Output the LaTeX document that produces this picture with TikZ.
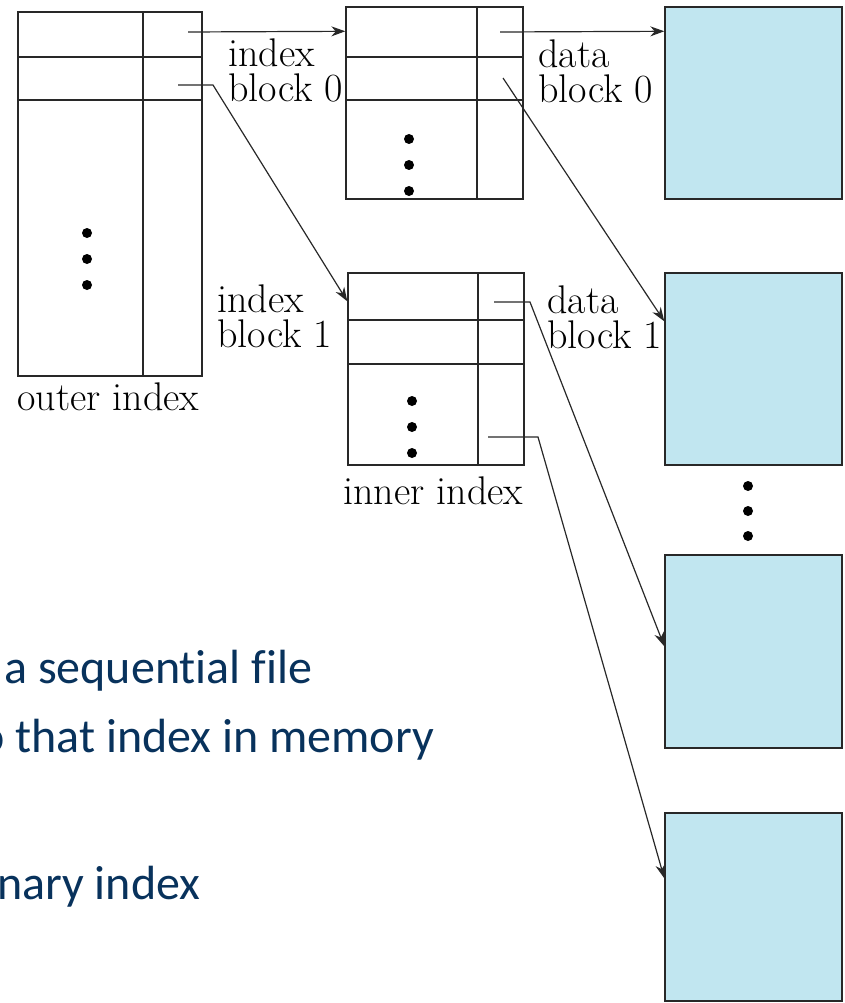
\documentclass[tikz,border=0pt]{standalone}
\usepackage{fontspec}
\usepackage{tikz}
\usetikzlibrary{arrows.meta,calc}
\newfontfamily\slidefont[Ligatures=NoCommon]{Carlito}
\definecolor{db_blue}{RGB}{193, 230, 240}
\definecolor{line_grey}{RGB}{40, 40, 40}
\definecolor{slide_blue}{RGB}{8, 50, 92}
\tikzstyle{ib}=[rectangle,draw=line_grey,line width=1.4pt,inner sep=0pt]
\tikzstyle{db}=[rectangle,fill=db_blue,draw=line_grey,line width=1.4pt,
  inner sep=0pt,minimum width=177pt,minimum height=192pt]
\tikzstyle{lbl}=[inner sep=0pt,anchor=base west,align=left,
  font=\fontsize{40}{35}\selectfont]
\tikzstyle{txt}=[inner sep=0pt,anchor=base west,text=slide_blue,
  font=\slidefont\fontsize{48}{58}\selectfont]
\tikzstyle{ptr}=[line_grey,line width=1.2pt,-{Stealth[length=14pt,width=10pt]}]
\tikzstyle{none}=[]

\begin{document}
\begin{tikzpicture}[x=1pt,y=-1pt]
		\useasboundingbox (0,0) rectangle (844,1003);
		\node [style=ib,minimum width=184pt,minimum height=364pt] (0) at (110, 194) {};
		\node [style=ib,minimum width=177pt,minimum height=192pt] (1) at (434.5, 103) {};
		\node [style=ib,minimum width=176pt,minimum height=192pt] (2) at (436, 369) {};
		\node [style=db] (3) at (753.5, 103) {};
		\node [style=db] (4) at (753.5, 369) {};
		\node [style=db,minimum height=193pt] (5) at (753.5, 651.5) {};
		\node [style=db,minimum height=188pt] (6) at (753.5, 907) {};
		% cells
		\draw [line_grey,line width=1.4pt] (143, 12) -- (143, 376);
		\draw [line_grey,line width=1.4pt] (477, 7) -- (477, 199);
		\draw [line_grey,line width=1.4pt] (478, 273) -- (478, 465);
		\foreach \y in {57,100} {
			\draw [line_grey,line width=1.4pt] (18, \y) -- (202, \y);
			\draw [line_grey,line width=1.4pt] (346, \y) -- (523, \y);
		}
		\foreach \y in {320,364}
			\draw [line_grey,line width=1.4pt] (348, \y) -- (524, \y);
		\foreach \y in {233,259,285} \fill (87, \y) circle (5pt);
		\foreach \y in {139,165,191} \fill (409, \y) circle (5pt);
		\foreach \y in {401,427,453} \fill (412, \y) circle (5pt);
		\foreach \y in {486,511,536} \fill (748, \y) circle (5pt);
		% labels
		\node [style=lbl] (7) at (228, 102) {index\\block 0};
		\node [style=lbl] (8) at (538, 103) {data\\block 0};
		\node [style=lbl] (9) at (217, 347) {index\\block 1};
		\node [style=lbl] (10) at (547, 348) {data\\block 1};
		\node [style=lbl] (11) at (17, 410) {outer index};
		\node [style=lbl] (12) at (343, 504) {inner index};
		\node [style=txt] (13) at (4, 683) {a sequential file};
		\node [style=txt] (14) at (-21, 752) {o that index in memory};
		\node [style=txt] (15) at (-3, 899) {nary index};
		% pointers
		\coordinate (20) at (188, 32);
		\coordinate (21) at (178, 85);
		\coordinate (22) at (213, 85);
		\coordinate (23) at (500, 32);
		\coordinate (24) at (503, 78);
		\coordinate (25) at (494, 302);
		\coordinate (26) at (530, 302);
		\coordinate (27) at (488, 437);
		\coordinate (28) at (538, 437);
		\draw [style=ptr] (20) to ([yshift=-25pt]1.north west);
		\draw [style=ptr] (21) -- (22) -- ([yshift=-29pt]2.north west);
		\draw [style=ptr] (23) to ([yshift=-25pt]3.north west);
		\draw [style=ptr] (24) to ([yshift=-49pt]4.north west);
		\draw [style=ptr] (25) -- (26) -- ([yshift=-92pt]5.north west);
		\draw [style=ptr] (27) -- (28) -- ([yshift=-66pt]6.north west);
\end{tikzpicture}
\end{document}
